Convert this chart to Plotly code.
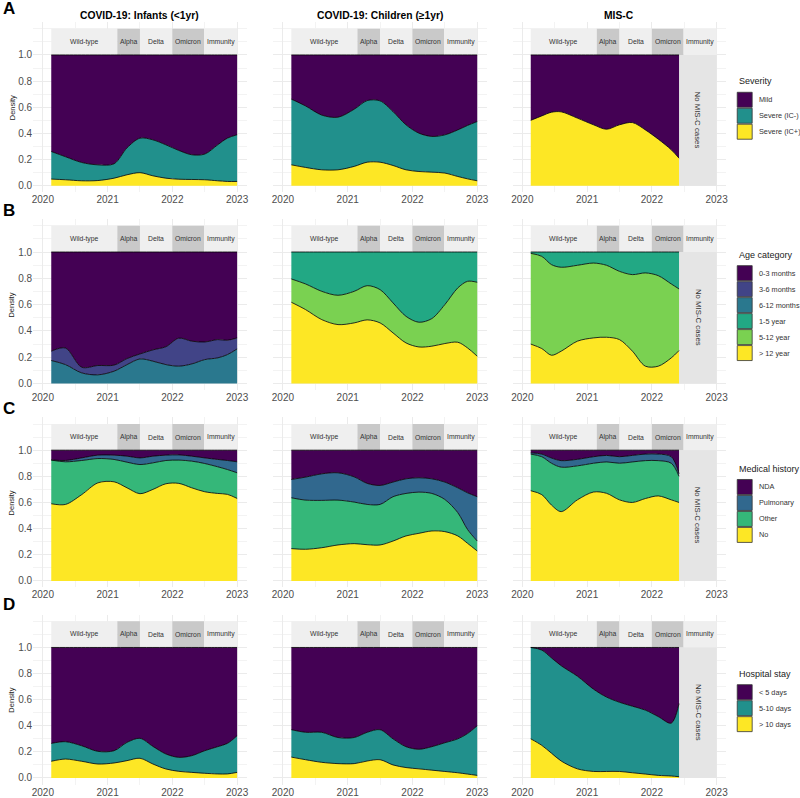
import plotly.graph_objects as go
from plotly.subplots import make_subplots

FONT = "Liberation Sans, Arial, sans-serif"
W, H = 800, 798

# x positions (decimal years) at which the stacked density edges were read
T_COVID = [2020.13, 2020.35, 2020.6, 2020.85, 2021.1, 2021.3, 2021.5, 2021.7,
           2021.9, 2022.1, 2022.3, 2022.5, 2022.7, 2022.85, 2023.0]
T_MISC = [2020.13, 2020.3, 2020.45, 2020.6, 2020.85, 2021.1, 2021.3, 2021.5,
          2021.7, 2021.9, 2022.1, 2022.3, 2022.42]

# variant periods shown in the strip above each panel
VARIANTS = ["Wild-type", "Alpha", "Delta", "Omicron", "Immunity"]
VARIANT_START = [2020.13, 2021.15, 2021.5, 2022.0, 2022.49]
VARIANT_END = [2021.15, 2021.5, 2022.0, 2022.49, 2023.0]
VARIANT_FILL = ["#EFEFEF", "#C9C9C9", "#EFEFEF", "#C9C9C9", "#EFEFEF"]

COLUMN_TITLES = ["COVID-19: Infants (<1yr)", "COVID-19: Children (\u22651yr)", "MIS-C"]

# --- A: severity (upper edge of each band, cumulative from the bottom) ---
sev_inf_icpos = [0.051, 0.046, 0.038, 0.040, 0.058, 0.084, 0.100, 0.076,
                 0.058, 0.050, 0.048, 0.046, 0.038, 0.033, 0.033]
sev_inf_icneg = [0.262, 0.222, 0.178, 0.160, 0.168, 0.290, 0.364, 0.351,
                 0.313, 0.270, 0.237, 0.242, 0.313, 0.364, 0.390]
sev_chi_icpos = [0.160, 0.140, 0.122, 0.122, 0.148, 0.180, 0.180, 0.155,
                 0.122, 0.109, 0.104, 0.097, 0.071, 0.053, 0.038]
sev_chi_icneg = [0.662, 0.610, 0.540, 0.524, 0.585, 0.651, 0.649, 0.567,
                 0.466, 0.402, 0.377, 0.389, 0.427, 0.461, 0.491]
sev_misc_icpos = [0.500, 0.534, 0.562, 0.565, 0.517, 0.466, 0.432, 0.466,
                  0.483, 0.427, 0.356, 0.275, 0.211]

# --- B: age category ---
age_inf_6_12 = [0.175, 0.144, 0.081, 0.066, 0.094, 0.144, 0.187, 0.170,
                0.144, 0.132, 0.149, 0.182, 0.195, 0.220, 0.263]
age_inf_3_6 = [0.246, 0.270, 0.124, 0.137, 0.140, 0.190, 0.225, 0.256,
               0.280, 0.345, 0.322, 0.316, 0.334, 0.329, 0.347]
age_chi_gt12 = [0.618, 0.562, 0.486, 0.448, 0.461, 0.484, 0.461, 0.385,
                0.309, 0.278, 0.284, 0.304, 0.314, 0.271, 0.208]
age_chi_5_12 = [0.795, 0.757, 0.701, 0.671, 0.701, 0.744, 0.714, 0.613,
                0.511, 0.466, 0.494, 0.600, 0.727, 0.777, 0.770]
age_misc_gt12 = [0.300, 0.266, 0.215, 0.246, 0.322, 0.347, 0.352, 0.334,
                 0.246, 0.132, 0.132, 0.195, 0.251]
age_misc_5_12 = [0.990, 0.967, 0.904, 0.884, 0.899, 0.916, 0.899, 0.853,
                 0.828, 0.841, 0.820, 0.757, 0.719]

# --- C: medical history ---
med_inf_no = [0.590, 0.585, 0.660, 0.750, 0.758, 0.712, 0.667, 0.700,
              0.743, 0.746, 0.712, 0.682, 0.669, 0.662, 0.631]
med_inf_other = [0.924, 0.911, 0.921, 0.936, 0.929, 0.908, 0.890, 0.903,
                 0.921, 0.924, 0.916, 0.898, 0.873, 0.852, 0.827]
med_inf_pulm = [0.926, 0.921, 0.941, 0.962, 0.962, 0.954, 0.941, 0.954,
                0.962, 0.964, 0.954, 0.941, 0.929, 0.921, 0.911]
med_chi_no = [0.247, 0.242, 0.254, 0.275, 0.285, 0.277, 0.275, 0.305,
              0.344, 0.364, 0.382, 0.377, 0.344, 0.288, 0.229]
med_chi_other = [0.636, 0.618, 0.616, 0.618, 0.603, 0.585, 0.585, 0.644,
                 0.669, 0.679, 0.669, 0.623, 0.522, 0.394, 0.305]
med_chi_pulm = [0.776, 0.794, 0.819, 0.827, 0.796, 0.746, 0.730, 0.756,
                0.781, 0.789, 0.781, 0.756, 0.712, 0.674, 0.644]
med_misc_no = [0.690, 0.660, 0.580, 0.530, 0.620, 0.680, 0.670, 0.620,
               0.600, 0.630, 0.650, 0.620, 0.600]
med_misc_other = [0.970, 0.950, 0.900, 0.870, 0.880, 0.900, 0.910, 0.900,
                  0.910, 0.920, 0.920, 0.900, 0.800]
med_misc_pulm = [0.980, 0.970, 0.940, 0.920, 0.930, 0.950, 0.960, 0.950,
                 0.960, 0.970, 0.970, 0.950, 0.820]

# --- D: hospital stay ---
stay_inf_gt10 = [0.128, 0.145, 0.128, 0.107, 0.115, 0.133, 0.151, 0.107,
                 0.069, 0.051, 0.043, 0.036, 0.031, 0.031, 0.043]
stay_inf_5_10 = [0.265, 0.278, 0.247, 0.204, 0.209, 0.273, 0.304, 0.242,
                 0.184, 0.158, 0.171, 0.209, 0.240, 0.265, 0.324]
stay_chi_gt10 = [0.160, 0.140, 0.120, 0.110, 0.110, 0.130, 0.140, 0.100,
                 0.080, 0.070, 0.060, 0.050, 0.040, 0.030, 0.020]
stay_chi_5_10 = [0.370, 0.350, 0.350, 0.310, 0.310, 0.350, 0.370, 0.300,
                 0.240, 0.220, 0.240, 0.270, 0.300, 0.340, 0.400]
stay_misc_gt10 = [0.300, 0.250, 0.190, 0.130, 0.070, 0.050, 0.050, 0.050,
                  0.040, 0.030, 0.020, 0.015, 0.010]
stay_misc_5_10 = [1.000, 0.980, 0.920, 0.860, 0.780, 0.680, 0.620, 0.580,
                  0.550, 0.520, 0.470, 0.420, 0.570]

ONES_COVID = [1.0] * len(T_COVID)
ONES_MISC = [1.0] * len(T_MISC)

# rows: legend title, categories bottom -> top, colours, edges per column
ROWS = [
    dict(
        title="Severity",
        cats=["Severe (IC+)", "Severe (IC-)", "Mild"],
        colors=["#FDE725", "#21908C", "#440154"],
        edges=[
            [sev_inf_icpos, sev_inf_icneg, ONES_COVID],
            [sev_chi_icpos, sev_chi_icneg, ONES_COVID],
            [sev_misc_icpos, None, ONES_MISC],
        ],
    ),
    dict(
        title="Age category",
        cats=["> 12 year", "5-12 year", "1-5 year", "6-12 months",
              "3-6 months", "0-3 months"],
        colors=["#FDE725", "#7AD151", "#22A884", "#2A788E", "#414487", "#440154"],
        edges=[
            [None, None, None, age_inf_6_12, age_inf_3_6, ONES_COVID],
            [age_chi_gt12, age_chi_5_12, ONES_COVID, None, None, None],
            [age_misc_gt12, age_misc_5_12, ONES_MISC, None, None, None],
        ],
    ),
    dict(
        title="Medical history",
        cats=["No", "Other", "Pulmonary", "NDA"],
        colors=["#FDE725", "#35B779", "#31688E", "#440154"],
        edges=[
            [med_inf_no, med_inf_other, med_inf_pulm, ONES_COVID],
            [med_chi_no, med_chi_other, med_chi_pulm, ONES_COVID],
            [med_misc_no, med_misc_other, med_misc_pulm, ONES_MISC],
        ],
    ),
    dict(
        title="Hospital stay",
        cats=["> 10 days", "5-10 days", "< 5 days"],
        colors=["#FDE725", "#21908C", "#440154"],
        edges=[
            [stay_inf_gt10, stay_inf_5_10, ONES_COVID],
            [stay_chi_gt10, stay_chi_5_10, ONES_COVID],
            [stay_misc_gt10, stay_misc_5_10, ONES_MISC],
        ],
    ),
]

# panel geometry in pixels
X_DOM = [(32.25, 246.75), (273.25, 487.75), (513.55, 728.05)]
Y_DOM = [(22.25, 192.55), (219.4, 390.6), (418.0, 588.2), (615.6, 785.5)]
LETTER_Y = [9, 211, 409, 605]
KEY_X0, KEY_X1, KEY_H, TITLE_H = 739, 754, 16, 17


def px_x(p):
    return p / W


def px_y(p):
    return 1 - p / H


def label(x, y, text, size, color="#333333", **kw):
    """Paper-anchored text placed by its centre (or left edge)."""
    fig.add_annotation(
        xref="paper", yref="paper", x=px_x(x), y=px_y(y),
        text=text, showarrow=False,
        xanchor=kw.pop("xanchor", "center"), yanchor="middle",
        font=dict(family=FONT, size=size, color=color), **kw,
    )


fig = make_subplots(rows=4, cols=3)

for r, row in enumerate(ROWS):
    for c in range(3):
        n = r * 3 + c + 1
        sfx = "" if n == 1 else str(n)
        xs = T_MISC if c == 2 else T_COVID
        first = True
        for cat, col, edge in zip(row["cats"], row["colors"], row["edges"][c]):
            if edge is None:
                continue
            fig.add_trace(
                go.Scatter(
                    x=xs,
                    y=edge,
                    mode="lines",
                    line=dict(color="black", width=0.8, shape="spline", smoothing=0.9),
                    fill="tozeroy" if first else "tonexty",
                    fillcolor=col,
                    showlegend=False,
                    hoverinfo="skip",
                ),
                row=r + 1,
                col=c + 1,
            )
            first = False

        # variant strip
        for name, x0, x1, fc in zip(VARIANTS, VARIANT_START, VARIANT_END, VARIANT_FILL):
            fig.add_shape(
                type="rect", xref="x" + sfx, yref="y" + sfx,
                x0=x0, x1=x1, y0=1.0, y1=1.2,
                fillcolor=fc, line_width=0, layer="between",
            )
            fig.add_annotation(
                xref="x" + sfx, yref="y" + sfx, x=(x0 + x1) / 2, y=1.1,
                text=name, showarrow=False, xanchor="center", yanchor="middle",
                font=dict(family=FONT, size=6.8, color="#333333"),
            )

        if c == 2:
            fig.add_shape(
                type="rect", xref="x" + sfx, yref="y" + sfx,
                x0=2022.42, x1=2023.0, y0=0, y1=1.0,
                fillcolor="#E5E5E5", line_width=0, layer="between",
            )
            fig.add_annotation(
                xref="x" + sfx, yref="y" + sfx, x=2022.71, y=0.5,
                text="No MIS-C cases", textangle=90, showarrow=False,
                xanchor="center", yanchor="middle",
                font=dict(family=FONT, size=7.8, color="#333333"),
            )

        fig.update_xaxes(
            row=r + 1, col=c + 1,
            domain=[px_x(X_DOM[c][0]), px_x(X_DOM[c][1])],
            range=[2019.85, 2023.15],
            tickvals=[2020, 2021, 2022, 2023],
            ticktext=["2020", "2021", "2022", "2023"],
            tickfont=dict(family=FONT, size=10, color="#4D4D4D"),
            showgrid=True, gridcolor="#EBEBEB", gridwidth=1,
            minor=dict(tickvals=[2020.5, 2021.5, 2022.5], showgrid=True,
                       gridcolor="#F3F3F3", gridwidth=1),
            zeroline=False, showline=False, ticks="",
        )
        fig.update_yaxes(
            row=r + 1, col=c + 1,
            domain=[px_y(Y_DOM[r][1]), px_y(Y_DOM[r][0])],
            range=[-0.05, 1.25],
            tickvals=[0, 0.2, 0.4, 0.6, 0.8, 1.0],
            ticktext=["0.0", "0.2", "0.4", "0.6", "0.8", "1.0"],
            showticklabels=(c == 0),
            tickfont=dict(family=FONT, size=10, color="#4D4D4D"),
            showgrid=True, gridcolor="#EBEBEB", gridwidth=1,
            minor=dict(tickvals=[0.1, 0.3, 0.5, 0.7, 0.9, 1.1, 1.2], showgrid=True,
                       gridcolor="#F3F3F3", gridwidth=1),
            zeroline=False, showline=False, ticks="",
        )

    # legend, centred on the panel row: title, then abutting square keys
    keys = list(reversed(list(zip(row["cats"], row["colors"]))))
    row_mid = (Y_DOM[r][0] + Y_DOM[r][1]) / 2
    top = row_mid - (TITLE_H + KEY_H * len(keys)) / 2
    label(KEY_X0, top + 6.5, row["title"], 9, "#222222", xanchor="left")
    for k, (cat, col) in enumerate(keys):
        y0 = top + TITLE_H + k * KEY_H
        fig.add_shape(
            type="rect", xref="paper", yref="paper",
            x0=px_x(KEY_X0), x1=px_x(KEY_X1),
            y0=px_y(y0 + KEY_H - 0.5), y1=px_y(y0 + 0.5),
            fillcolor=col, line=dict(color="#333333", width=0.8),
        )
        label(KEY_X1 + 5, y0 + KEY_H / 2, cat, 7.3, xanchor="left")

    label(11, row_mid, "Density", 7.5, "#222222", textangle=-90)
    label(8, LETTER_Y[r], "<b>" + "ABCD"[r] + "</b>", 17, "black")

for c, title in enumerate(COLUMN_TITLES):
    label((X_DOM[c][0] + X_DOM[c][1]) / 2, 15.5, "<b>" + title + "</b>", 10.3, "black")

fig.update_layout(
    width=W, height=H,
    margin=dict(l=0, r=0, t=0, b=0),
    paper_bgcolor="white", plot_bgcolor="white",
    showlegend=False,
)

# the page body has a default 8px margin; drop it so pixels line up
fig.write_html(
    "out.html",
    config={"displayModeBar": False},
    post_script="document.body.style.margin='0px';",
)
